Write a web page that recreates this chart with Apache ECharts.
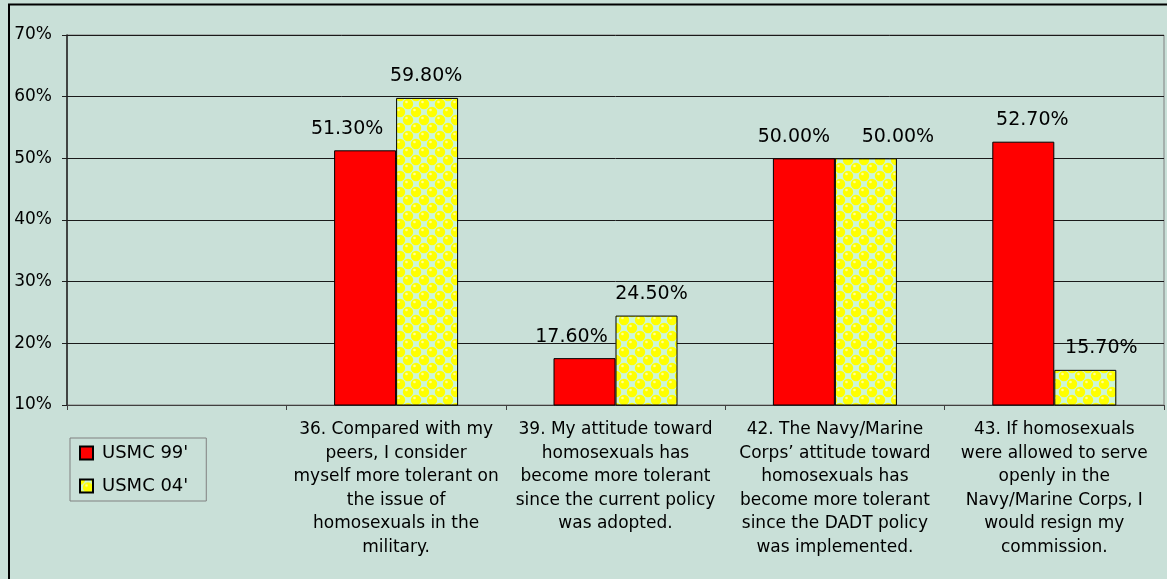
<!DOCTYPE html>
<html>
<head>
<meta charset="utf-8">
<title>USMC 99' vs USMC 04'</title>
<script src="https://cdn.jsdelivr.net/npm/echarts@6/dist/echarts.min.js"></script>
<style>
	html, body { margin: 0; padding: 0; background: #C9E0D8; }
	#chart { width: 1167px; height: 579px; }
</style>
</head>
<body>
<div id="chart"></div>
<script>
// categories (first one is empty, the legend sits under it)
var categories = [
	'',
	'36. Compared with my\npeers, I consider\nmyself more tolerant on\nthe issue of\nhomosexuals in the\nmilitary.',
	'39. My attitude toward\nhomosexuals has\nbecome more tolerant\nsince the current policy\nwas adopted.',
	'42. The Navy/Marine\nCorps\u2019 attitude toward\nhomosexuals has\nbecome more tolerant\nsince the DADT policy\nwas implemented.',
	'43. If homosexuals\nwere allowed to serve\nopenly in the\nNavy/Marine Corps, I\nwould resign my\ncommission.'
];
var usmc99 = ['-', 51.3, 17.6, 50.0, 52.7];
var usmc04 = ['-', 59.8, 24.5, 50.0, 15.7];
var yTicks = [10, 20, 30, 40, 50, 60, 70];

// horizontal nudges of the value labels (excel had them dragged around)
var shift99 = [0, -18, -13, -10, 9];
var shift04 = [0, -1, 5, 32, 16];

var FONT = 'DejaVu Sans';

/**
 * yellow "sphere" fill used by excel for the 04' series
 */
function makePattern() {
	var c = document.createElement('canvas');
	c.width = 16;
	c.height = 16;
	var ctx = c.getContext('2d');
	ctx.fillStyle = '#CCF5D8';
	ctx.fillRect(0, 0, 16, 16);
	var pts = [[8, 8], [0, 0], [16, 0], [0, 16], [16, 16]];
	for (var i = 0; i < pts.length; i++) {
		ctx.fillStyle = '#FFFF00';
		ctx.beginPath();
		ctx.arc(pts[i][0], pts[i][1], 5.2, 0, Math.PI * 2);
		ctx.fill();
		// little shine on each ball
		ctx.fillStyle = '#FFFF99';
		ctx.beginPath();
		ctx.arc(pts[i][0] - 1.5, pts[i][1] - 2, 1.3, 0, Math.PI * 2);
		ctx.fill();
	}
	return c;
}

var chart = echarts.init(document.getElementById('chart'));

function pctLabel(p) {
	return p.value.toFixed(2) + '%';
}

var labelStyle = {
	show: true,
	position: 'top',
	distance: 12,
	fontFamily: FONT,
	fontSize: 19,
	color: '#000',
	formatter: pctLabel
};

// wrap raw values into items so each label can get its own nudge
function withShift(values, shifts) {
	return values.map(function(v, i) {
		if (v === '-') return v;
		return { value: v, label: { offset: [shifts[i], 0] } };
	});
}

var option = {
	backgroundColor: '#C9E0D8',
	animation: false,
	grid: {
		left: 67,
		right: 3,
		top: 35,
		bottom: 174,
		show: true,
		borderColor: '#808080',
		borderWidth: 1,
		backgroundColor: 'transparent'
	},
	legend: {
		orient: 'vertical',
		left: 70,
		top: 438,
		padding: [6, 18, 6, 9],
		itemGap: 15,
		itemWidth: 13,
		itemHeight: 13,
		borderColor: '#808080',
		borderWidth: 1,
		icon: 'rect',
		textStyle: {
			fontFamily: FONT,
			fontSize: 18,
			color: '#000',
			padding: [0, 0, 0, 4]
		},
		data: ["USMC 99'", "USMC 04'"]
	},
	xAxis: {
		type: 'category',
		data: categories,
		axisLine: { lineStyle: { color: '#404040', width: 1 } },
		axisTick: { show: true, length: 5, lineStyle: { color: '#404040' } },
		axisLabel: {
			interval: 0,
			margin: 13,
			fontFamily: FONT,
			fontSize: 17,
			lineHeight: 23.5,
			color: '#000',
			align: 'center'
		}
	},
	yAxis: {
		type: 'value',
		min: yTicks[0],
		max: yTicks[yTicks.length - 1],
		interval: 10,
		axisLine: { show: true, lineStyle: { color: '#202020', width: 1.5 } },
		axisTick: { show: true, length: 5, lineStyle: { color: '#202020' } },
		splitLine: { lineStyle: { color: '#1a1a1a', width: 1 } },
		axisLabel: {
			margin: 15,
			fontFamily: FONT,
			fontSize: 17,
			color: '#000',
			formatter: '{value}%'
		}
	},
	series: [
		{
			name: "USMC 99'",
			type: 'bar',
			data: withShift(usmc99, shift99),
			barWidth: 62,
			barGap: '0%',
			itemStyle: { color: '#FF0000', borderColor: '#000', borderWidth: 1 },
			label: labelStyle
		},
		{
			name: "USMC 04'",
			type: 'bar',
			data: withShift(usmc04, shift04),
			barWidth: 62,
			barGap: '0%',
			itemStyle: {
				color: { image: makePattern(), repeat: 'repeat' },
				borderColor: '#000',
				borderWidth: 1
			},
			label: labelStyle
		}
	],
	graphic: [
		{
			// outer chart frame, right/bottom edges fall outside the picture
			type: 'rect',
			silent: true,
			z: 100,
			shape: { x: 9, y: 4.5, width: 1200, height: 620 },
			style: { fill: 'none', stroke: '#000', lineWidth: 2 }
		}
	]
};

chart.setOption(option);
</script>
</body>
</html>
